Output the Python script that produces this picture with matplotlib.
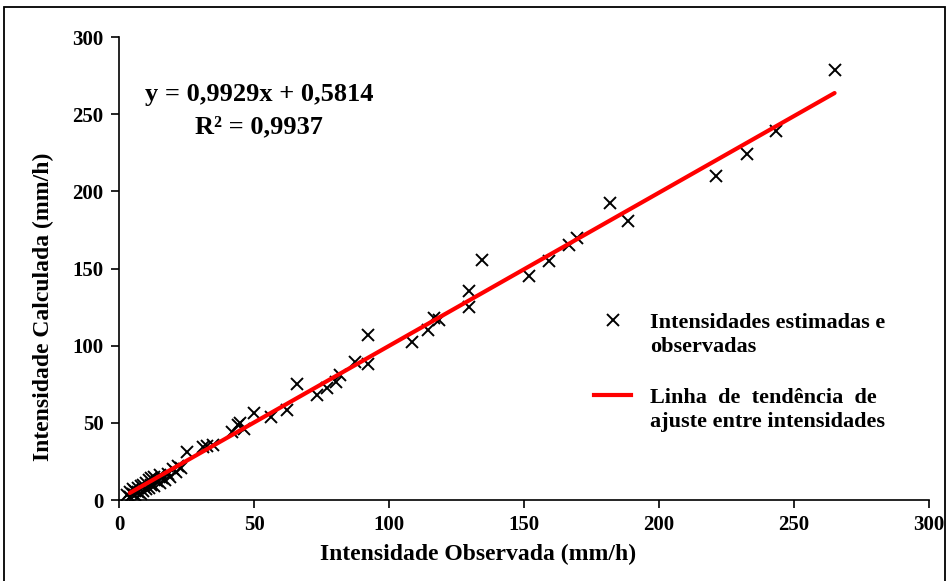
import matplotlib
matplotlib.use("Agg")
import matplotlib.pyplot as plt
from matplotlib.lines import Line2D
from matplotlib.patches import Rectangle
import numpy as np

plt.rcParams['font.family'] = ['Liberation Serif', 'DejaVu Serif']
plt.rcParams['font.weight'] = 'bold'

# Observed vs calculated intensities (mm/h)
observed = [3, 4, 4, 5, 5, 6, 6, 7, 7, 8, 8, 9, 9, 10, 10, 11, 11, 12, 12, 13,
            13, 14, 15, 15, 16, 17, 18, 19, 20, 21, 22, 23, 25.2, 31.1, 32.6, 34.8,
            41.9, 44.1, 44.8, 46.3, 50.0, 56.2, 62.4, 65.8, 73.3, 77.0, 80.4, 81.9,
            87.4, 92.2, 92.2, 108.5, 114.4, 116.7, 118.5, 129.6, 129.6, 134.4,
            151.9, 159.3, 166.7, 169.5, 181.9, 188.5, 221.1, 232.6, 243.3, 265.2]
calculated = [3, 5, 2, 4, 7, 3, 6, 8, 5, 4, 9, 6, 10, 7, 11, 8, 13, 10, 14, 9,
              15, 12, 16, 11, 14, 13, 17, 15, 20, 18, 22, 21, 30.8, 34.3, 35.0, 35.6,
              44.1, 48.6, 50.2, 46.0, 56.4, 53.8, 58.0, 75.2, 68.0, 72.6, 76.5, 81.0,
              89.4, 107.0, 88.1, 102.4, 110.2, 118.0, 116.6, 135.4, 125.1, 155.5,
              145.2, 154.9, 165.3, 169.8, 192.5, 180.8, 210.0, 224.2, 238.8, 278.6]

slope = 0.9929
intercept = 0.5814
fit_x = [4, 265]
fit_y = [slope * v + intercept for v in fit_x]

ticks = [0, 50, 100, 150, 200, 250, 300]

fig = plt.figure(figsize=(9.49, 5.81), dpi=100)
ax = fig.add_axes([0.1254, 0.1394, 0.979 - 0.1254, 0.9363 - 0.1394])

ax.plot(observed, calculated, linestyle='none', marker='x', color='black',
        markersize=9, markeredgewidth=1.4, zorder=2)
ax.plot(fit_x, fit_y, color='#ff0000', linewidth=3.0, solid_capstyle='round', zorder=3)

ax.set_xlim(0, 300)
ax.set_ylim(0, 300)
ax.set_xticks(ticks)
ax.set_yticks(ticks)
ax.tick_params(direction='out', length=6, width=1.2, labelsize=15, pad=5)
for lab in ax.get_xticklabels() + ax.get_yticklabels():
    lab.set_fontweight('bold')
for s in ['top', 'right']:
    ax.spines[s].set_visible(False)
for s in ['left', 'bottom']:
    ax.spines[s].set_linewidth(1.2)

ax.set_xlabel('Intensidade Observada (mm/h)', fontsize=17, fontweight='bold')
ax.set_ylabel('Intensidade Calculada (mm/h)', fontsize=17, fontweight='bold')
ax.xaxis.set_label_coords(0.443, -0.094)
ax.yaxis.set_label_coords(-0.080, 0.417)

ax.text(51.9, 262.5, 'y = 0,9929x + 0,5814', ha='center', va='center',
        fontsize=19, fontweight='bold')
ax.text(51.9, 241.7, 'R² = 0,9937', ha='center', va='center',
        fontsize=19, fontweight='bold')

blank = Line2D([], [], linestyle='none')
mk = Line2D([], [], linestyle='none', marker='x', color='black',
            markersize=8, markeredgewidth=1.4)
ln = Line2D([], [], color='#ff0000', linewidth=3.0)

common = dict(loc='upper left', frameon=False, fontsize=16, handlelength=1.67,
              handletextpad=0.86, labelspacing=0.17, borderaxespad=0, borderpad=0)
leg1 = ax.legend([mk, blank], ['Intensidades estimadas e', 'observadas'],
                 bbox_to_anchor=(0.5864, 0.405), **common)
for t in leg1.get_texts():
    t.set_fontweight('bold')
ax.add_artist(leg1)
leg2 = ax.legend([ln, blank], ['Linha  de  tendência  de', 'ajuste entre intensidades'],
                 bbox_to_anchor=(0.5864, 0.243), **common)
for t in leg2.get_texts():
    t.set_fontweight('bold')

fig.patches.append(Rectangle((0.004, -0.01), 0.992, 0.998, transform=fig.transFigure,
                             fill=False, edgecolor='black', linewidth=1.3))

fig.savefig('out.png', dpi=100)
